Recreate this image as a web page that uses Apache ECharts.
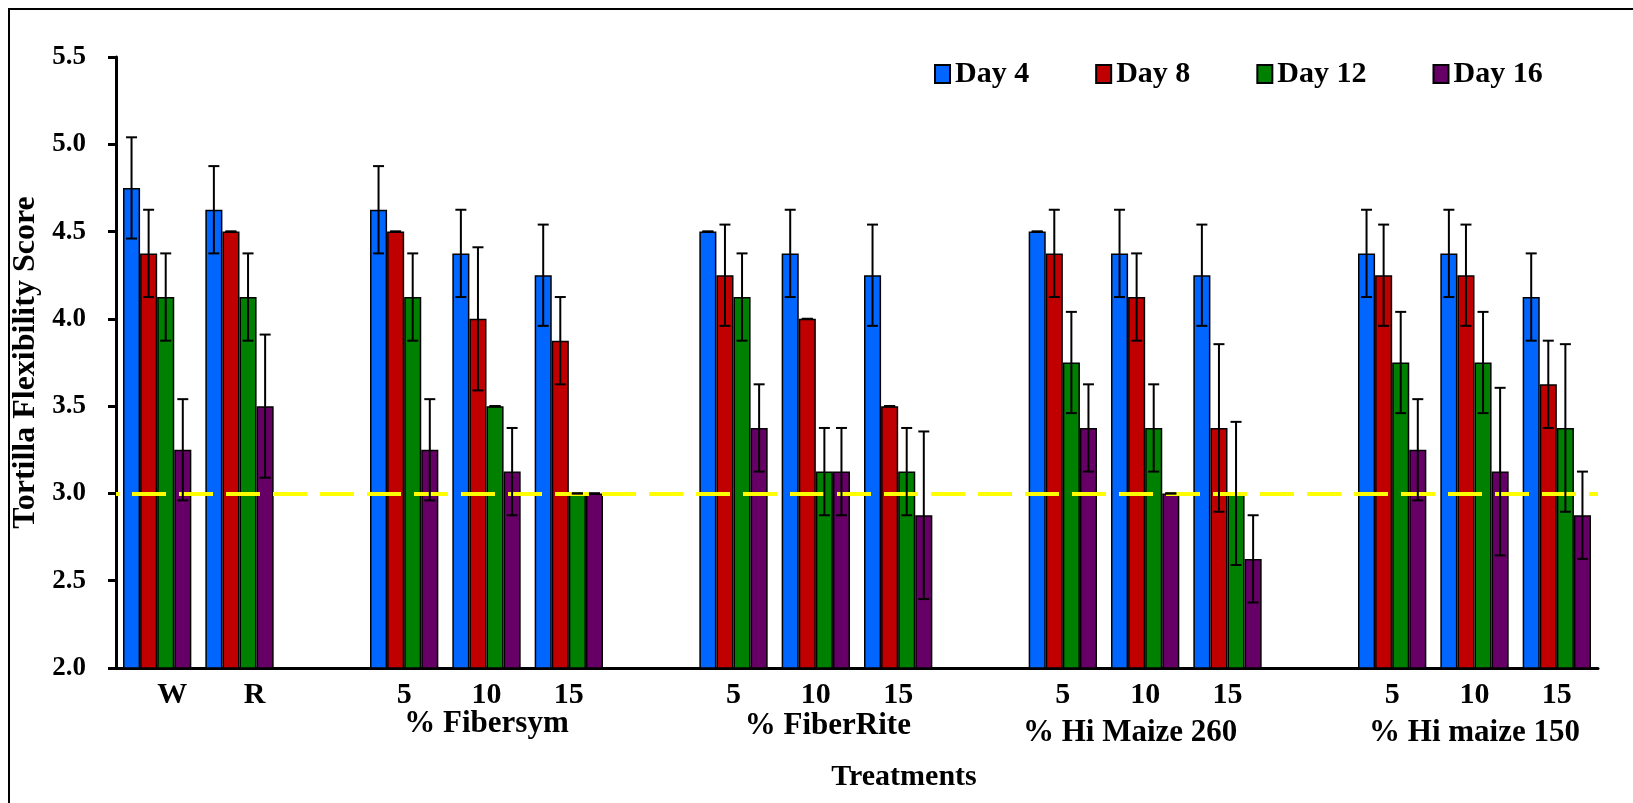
<!DOCTYPE html>
<html>
<head>
<meta charset="utf-8">
<script src="https://cdn.jsdelivr.net/npm/echarts@6/dist/echarts.min.js"></script>
<style>
html,body{margin:0;padding:0;background:#fff;}
#chart{width:1633px;height:803px;}
</style>
</head>
<body>
<div id="chart"></div>
<script>
var categories = ['W','R','','5','10','15','','5','10','15','','5','10','15','','5','10','15'];
var seriesNames = ['Day 4','Day 8','Day 12','Day 16'];
var day4 = [4.75,4.625,null,4.625,4.375,4.25,null,4.5,4.375,4.25,null,4.5,4.375,4.25,null,4.375,4.375,4.125];
var day4Err = [0.29,0.25,null,0.25,0.25,0.29,null,0,0.25,0.29,null,0,0.25,0.29,null,0.25,0.25,0.25];
var day8 = [4.375,4.5,null,4.5,4.0,3.875,null,4.25,4.0,3.5,null,4.375,4.125,3.375,null,4.25,4.25,3.625];
var day8Err = [0.25,0,null,0,0.41,0.25,null,0.29,0,0,null,0.25,0.25,0.48,null,0.29,0.29,0.25];
var day12 = [4.125,4.125,null,4.125,3.5,3.0,null,4.125,3.125,3.125,null,3.75,3.375,3.0,null,3.75,3.75,3.375];
var day12Err = [0.25,0.25,null,0.25,0,0,null,0.25,0.25,0.25,null,0.29,0.25,0.41,null,0.29,0.29,0.48];
var day16 = [3.25,3.5,null,3.25,3.125,3.0,null,3.375,3.125,2.875,null,3.375,3.0,2.625,null,3.25,3.125,2.875];
var day16Err = [0.29,0.41,null,0.29,0.25,0,null,0.25,0.25,0.48,null,0.25,0,0.25,null,0.29,0.48,0.25];
var yTicks = [2.0,2.5,3.0,3.5,4.0,4.5,5.0,5.5];
var groupLabels = ['% Fibersym','% FiberRite','% Hi Maize 260','% Hi maize 150'];
var groupCenterIdx = [4,8,12,16];
var thresholdValue = 3.0;
var xTitle = 'Treatments';
var yTitle = 'Tortilla Flexibility Score';

var colors = ['#0066FF','#C00000','#008000','#660066'];
var FONT = '"Liberation Serif", "Times New Roman", serif';
var means = [day4, day8, day12, day16];
var errs = [day4Err, day8Err, day12Err, day16Err];
var CATGAP = 0.17;

var chart = echarts.init(document.getElementById('chart'), null, {renderer:'canvas'});

var series = [];
means.forEach(function(m, k){
  var s = {
    name: seriesNames[k], type:'bar', data: m,
    barGap: '0%', barCategoryGap: (CATGAP*100)+'%',
    itemStyle: {color: colors[k], borderColor:'#000', borderWidth:1.5},
    z: 2
  };
  if (k === 3) {
    s.markLine = {
      silent: true, symbol: ['none','none'], label:{show:false},
      lineStyle: {color:'#FFFF00', width:4, type:[34,13], dashOffset: 31},
      data: [{yAxis: thresholdValue}],
      z: 5
    };
  }
  series.push(s);
});
means.forEach(function(m, k){
  var d = [];
  m.forEach(function(v,i){ if (v != null) d.push([i, v, errs[k][i]]); });
  series.push({
    type:'custom', name: seriesNames[k] + ' err', data: d, z: 6, silent: true,
    encode: {x:0, y:1},
    renderItem: function(params, api){
      var idx = api.value(0), mean = api.value(1), e = api.value(2);
      var band = api.size([1,0])[0];
      var bw = band*(1-CATGAP)/4;
      var c = api.coord([idx, mean]);
      var x = c[0] + (k-1.5)*bw;
      var top = api.coord([idx, mean+e])[1];
      var bot = api.coord([idx, mean-e])[1];
      var hw = 5.5;
      var st = {stroke:'#000', lineWidth:2};
      return {type:'group', children:[
        {type:'line', shape:{x1:x,y1:top,x2:x,y2:bot}, style:st},
        {type:'line', shape:{x1:x-hw,y1:top,x2:x+hw,y2:top}, style:st},
        {type:'line', shape:{x1:x-hw,y1:bot,x2:x+hw,y2:bot}, style:st}
      ]};
    }
  });
});

var option = {
  animation: false,
  backgroundColor: '#fff',
  textStyle: {fontFamily: FONT},
  legend: {
    data: seriesNames, left: 929, top: 54, itemGap: 66, itemWidth: 15, itemHeight: 18,
    itemTextGap: 3, icon: 'rect',
    textStyle: {fontFamily: FONT, fontWeight:'bold', fontSize: 30, color:'#000'}
  },
  grid: {left:116, right:35, top:57, bottom:135, containLabel:false},
  xAxis: {
    type:'category', data: categories,
    axisLine: {lineStyle:{color:'#000', width:3}},
    axisTick: {show:false},
    axisLabel: {
      interval:0, margin: 12, color:'#000', fontFamily: FONT, fontWeight:'bold', fontSize: 30,
      formatter: function(v){ return (v==='W'||v==='R') ? '{o|'+v+'}' : v; },
      rich: {o:{padding:[0,0,0,30], fontFamily: FONT, fontWeight:'bold', fontSize:30, color:'#000'}}
    },
    splitLine: {show:false}
  },
  yAxis: {
    type:'value', min: yTicks[0], max: yTicks[yTicks.length-1], interval: 0.5,
    name: yTitle, nameLocation:'middle', nameGap: 73,
    nameTextStyle: {fontFamily: FONT, fontWeight:'bold', fontSize: 32, color:'#000'},
    axisLine: {show:true, lineStyle:{color:'#000', width:3}},
    axisTick: {show:true, length:8, lineStyle:{color:'#000', width:3}},
    axisLabel: {margin: 30, color:'#000', fontFamily: FONT, fontWeight:'bold', fontSize: 27,
      formatter: function(v){ return v.toFixed(1); }},
    splitLine: {show:false}
  },
  series: series
};
chart.setOption(option);

var groupY = [724, 726, 733, 733];
var groupDx = [0, 12, -15, 0];
var graphics = [
  {type:'rect', shape:{x:9, y:9, width:1700, height:900}, style:{fill:'none', stroke:'#000', lineWidth:2}, z:-1, silent:true}
];
groupLabels.forEach(function(t, g){
  var px = chart.convertToPixel({xAxisIndex:0}, groupCenterIdx[g]);
  graphics.push({type:'text', x: px + groupDx[g], y: groupY[g], style:{text:t, fill:'#000',
    font:'bold 31px ' + FONT, textAlign:'center', textVerticalAlign:'middle'}, z: 10});
});
graphics.push({type:'text', x: 904, y: 777, style:{text: xTitle, fill:'#000',
  font:'bold 30px ' + FONT, textAlign:'center', textVerticalAlign:'middle'}, z:10});
chart.setOption({graphic: graphics});
</script>
</body>
</html>
